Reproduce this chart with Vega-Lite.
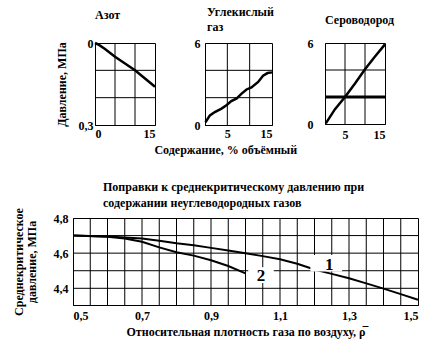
{
  "$schema": "https://vega.github.io/schema/vega-lite/v6.json",
  "background": "white",
  "config": {
    "font": "Liberation Serif, Times New Roman, DejaVu Serif, serif",
    "view": {"stroke": "black", "strokeWidth": 1},
    "axis": {"labelColor": "black", "gridColor": "black", "gridWidth": 1, "grid": false, "labelFontSize": 12, "labelOverlap": false, "tickSize": 1, "tickOpacity": 0, "domainColor": "black", "titleColor": "black", "titleFontSize": 12}
  },
  "datasets": {
    "azot": [
      {"x": 0, "y": 0}, {"x": 1, "y": 0.007}, {"x": 2.5, "y": 0.022}, {"x": 5, "y": 0.05},
      {"x": 7.5, "y": 0.075}, {"x": 10, "y": 0.1}, {"x": 12.5, "y": 0.13}, {"x": 15, "y": 0.16}
    ],
    "co2": [
      {"x": 0.1, "y": 0.2}, {"x": 1.1, "y": 0.7}, {"x": 2.2, "y": 0.95}, {"x": 3.7, "y": 1.2},
      {"x": 4.8, "y": 1.45}, {"x": 5.9, "y": 1.75}, {"x": 7.1, "y": 1.95}, {"x": 8.2, "y": 2.3},
      {"x": 9.3, "y": 2.6}, {"x": 10.4, "y": 2.75}, {"x": 11.9, "y": 3.15}, {"x": 13, "y": 3.6},
      {"x": 14, "y": 3.8}, {"x": 15, "y": 3.85}
    ],
    "h2s": [
      {"x": 0.2, "y": 0.05}, {"x": 2.5, "y": 1.1}, {"x": 5, "y": 2}, {"x": 7.5, "y": 3},
      {"x": 10, "y": 4.05}, {"x": 12.5, "y": 5}, {"x": 15, "y": 5.9}
    ],
    "h2s_ref": [{"y": 2}],
    "spacer": [{"v": 0}],
    "gridlines": [
      {"panel": "azot", "dir": "v", "v": 5}, {"panel": "azot", "dir": "v", "v": 10},
      {"panel": "azot", "dir": "h", "v": 0.1}, {"panel": "azot", "dir": "h", "v": 0.2},
      {"panel": "co2", "dir": "v", "v": 5}, {"panel": "co2", "dir": "v", "v": 10},
      {"panel": "co2", "dir": "h", "v": 2}, {"panel": "co2", "dir": "h", "v": 4},
      {"panel": "h2s", "dir": "v", "v": 5}, {"panel": "h2s", "dir": "v", "v": 10},
      {"panel": "h2s", "dir": "h", "v": 2}, {"panel": "h2s", "dir": "h", "v": 4},
      {"panel": "main", "dir": "v", "v": 0.55}, {"panel": "main", "dir": "v", "v": 0.6}, {"panel": "main", "dir": "v", "v": 0.65},
      {"panel": "main", "dir": "v", "v": 0.7}, {"panel": "main", "dir": "v", "v": 0.75}, {"panel": "main", "dir": "v", "v": 0.8},
      {"panel": "main", "dir": "v", "v": 0.85}, {"panel": "main", "dir": "v", "v": 0.9}, {"panel": "main", "dir": "v", "v": 0.95},
      {"panel": "main", "dir": "v", "v": 1.0}, {"panel": "main", "dir": "v", "v": 1.05}, {"panel": "main", "dir": "v", "v": 1.1},
      {"panel": "main", "dir": "v", "v": 1.15}, {"panel": "main", "dir": "v", "v": 1.2}, {"panel": "main", "dir": "v", "v": 1.25},
      {"panel": "main", "dir": "v", "v": 1.3}, {"panel": "main", "dir": "v", "v": 1.35}, {"panel": "main", "dir": "v", "v": 1.4},
      {"panel": "main", "dir": "v", "v": 1.45},
      {"panel": "main", "dir": "h", "v": 4.4}, {"panel": "main", "dir": "h", "v": 4.5},
      {"panel": "main", "dir": "h", "v": 4.6}, {"panel": "main", "dir": "h", "v": 4.7}
    ],
    "curves": [
      {"curve": "1", "x": 0.5, "y": 4.7}, {"curve": "1", "x": 0.6, "y": 4.695}, {"curve": "1", "x": 0.7, "y": 4.683},
      {"curve": "1", "x": 0.75, "y": 4.67}, {"curve": "1", "x": 0.8, "y": 4.656}, {"curve": "1", "x": 0.85, "y": 4.645},
      {"curve": "1", "x": 0.9, "y": 4.63}, {"curve": "1", "x": 0.95, "y": 4.615}, {"curve": "1", "x": 1.0, "y": 4.6},
      {"curve": "1", "x": 1.05, "y": 4.583}, {"curve": "1", "x": 1.1, "y": 4.565}, {"curve": "1", "x": 1.15, "y": 4.54},
      {"curve": "1", "x": 1.2, "y": 4.507}, {"curve": "1", "x": 1.25, "y": 4.482}, {"curve": "1", "x": 1.3, "y": 4.457},
      {"curve": "1", "x": 1.35, "y": 4.428}, {"curve": "1", "x": 1.4, "y": 4.398}, {"curve": "1", "x": 1.45, "y": 4.367},
      {"curve": "1", "x": 1.5, "y": 4.335},
      {"curve": "2", "x": 0.5, "y": 4.7}, {"curve": "2", "x": 0.6, "y": 4.693}, {"curve": "2", "x": 0.65, "y": 4.683},
      {"curve": "2", "x": 0.7, "y": 4.665}, {"curve": "2", "x": 0.75, "y": 4.633}, {"curve": "2", "x": 0.8, "y": 4.605},
      {"curve": "2", "x": 0.85, "y": 4.586}, {"curve": "2", "x": 0.9, "y": 4.56}, {"curve": "2", "x": 0.95, "y": 4.527},
      {"curve": "2", "x": 1.0, "y": 4.485}
    ],
    "annot": [
      {"label": "1", "x": 1.243, "y": 4.535, "x1": 1.188, "x2": 1.28, "y1": 4.496, "y2": 4.59},
      {"label": "2", "x": 1.045, "y": 4.47, "x1": 1.008, "x2": 1.082, "y1": 4.43, "y2": 4.52}
    ]
  },
  "spacing": 24,
  "vconcat": [
    {
      "title": {"text": "Содержание, % объёмный", "orient": "bottom", "anchor": "middle", "offset": 4, "dx": 25, "fontSize": 12, "fontWeight": "bold", "color": "black"},
      "spacing": 32,
      "hconcat": [
        {
          "width": 15, "height": 1,
          "view": {"stroke": null},
          "data": {"name": "spacer"},
          "mark": {"type": "point", "opacity": 0},
          "encoding": {}
        },
        {
          "width": 60, "height": 82,
          "title": {"text": "Азот", "anchor": "start", "frame": "group", "offset": 15, "fontSize": 12, "fontWeight": "bold", "color": "black"},
          "layer": [
            {
              "data": {"name": "gridlines"},
              "transform": [{"filter": "datum.panel == 'azot' && datum.dir == 'v'"}],
              "mark": {"type": "rule", "color": "black", "strokeWidth": 1},
              "encoding": {"x": {"field": "v", "type": "quantitative", "scale": {"domain": [0, 15], "nice": false}}}
            },
            {
              "data": {"name": "gridlines"},
              "transform": [{"filter": "datum.panel == 'azot' && datum.dir == 'h'"}],
              "mark": {"type": "rule", "color": "black", "strokeWidth": 1},
              "encoding": {"y": {"field": "v", "type": "quantitative", "scale": {"domain": [0, 0.3], "reverse": true, "nice": false, "zero": false}}}
            },
            {
              "data": {"name": "azot"},
              "mark": {"type": "line", "strokeWidth": 2.5, "color": "black"},
              "encoding": {
                "x": {"field": "x", "type": "quantitative", "scale": {"domain": [0, 15], "nice": false},
                      "axis": {"values": [0, 5, 10, 15], "title": "", "grid": false, "labelFont": "Times New Roman, Liberation Serif, DejaVu Serif, serif", "labelFontWeight": "bold", "labelColor": "black", "labelFontSize": 12, "labelPadding": 2}},
                "y": {"field": "y", "type": "quantitative", "scale": {"domain": [0, 0.3], "reverse": true, "nice": false, "zero": false},
                      "axis": {"values": [0, 0.1, 0.2, 0.3], "labelPadding": 1, "grid": false, "labelFont": "Times New Roman, Liberation Serif, DejaVu Serif, serif", "labelFontWeight": "bold", "labelColor": "black", "labelFontSize": 12,
                               "labelExpr": "datum.value == 0 ? '0' : replace(format(datum.value, '.1f'), '.', ',')",
                               "title": "Давление, МПа", "titlePadding": 10}}
              }
            }
          ]
        },
        {
          "spacing": 28,
          "hconcat": [
            {
              "width": 67, "height": 82,
              "title": {"text": ["Углекислый", "газ"], "anchor": "start", "frame": "group", "dx": 2, "offset": 3, "lineHeight": 15, "fontSize": 12, "fontWeight": "bold", "color": "black"},
              "layer": [
                {
                  "data": {"name": "gridlines"},
                  "transform": [{"filter": "datum.panel == 'co2' && datum.dir == 'v'"}],
                  "mark": {"type": "rule", "color": "black", "strokeWidth": 1},
                  "encoding": {"x": {"field": "v", "type": "quantitative", "scale": {"domain": [0, 15], "nice": false}}}
                },
                {
                  "data": {"name": "gridlines"},
                  "transform": [{"filter": "datum.panel == 'co2' && datum.dir == 'h'"}],
                  "mark": {"type": "rule", "color": "black", "strokeWidth": 1},
                  "encoding": {"y": {"field": "v", "type": "quantitative", "scale": {"domain": [0, 6], "nice": false}}}
                },
                {
                  "data": {"name": "co2"},
                  "mark": {"type": "line", "strokeWidth": 2.5, "color": "black"},
                  "encoding": {
                    "x": {"field": "x", "type": "quantitative", "scale": {"domain": [0, 15], "nice": false},
                          "axis": {"values": [5, 10, 15], "title": "", "grid": false, "labelFont": "Times New Roman, Liberation Serif, DejaVu Serif, serif", "labelFontWeight": "bold", "labelColor": "black", "labelFontSize": 12, "labelPadding": 2}},
                    "y": {"field": "y", "type": "quantitative", "scale": {"domain": [0, 6], "nice": false},
                          "axis": {"values": [0, 2, 4, 6], "labelPadding": 4, "title": "", "grid": false, "labelFont": "Times New Roman, Liberation Serif, DejaVu Serif, serif", "labelFontWeight": "bold", "labelColor": "black", "labelFontSize": 12}}
                  }
                }
              ]
            },
            {
              "width": 60, "height": 81,
              "title": {"text": "Сероводород", "anchor": "start", "frame": "group", "offset": 10, "fontSize": 12, "fontWeight": "bold", "color": "black"},
              "layer": [
                {
                  "data": {"name": "gridlines"},
                  "transform": [{"filter": "datum.panel == 'h2s' && datum.dir == 'v'"}],
                  "mark": {"type": "rule", "color": "black", "strokeWidth": 1},
                  "encoding": {"x": {"field": "v", "type": "quantitative", "scale": {"domain": [0, 15], "nice": false}}}
                },
                {
                  "data": {"name": "gridlines"},
                  "transform": [{"filter": "datum.panel == 'h2s' && datum.dir == 'h'"}],
                  "mark": {"type": "rule", "color": "black", "strokeWidth": 1},
                  "encoding": {"y": {"field": "v", "type": "quantitative", "scale": {"domain": [0, 6], "nice": false}}}
                },
                {
                  "data": {"name": "h2s_ref"},
                  "mark": {"type": "rule", "strokeWidth": 3, "color": "black"},
                  "encoding": {"y": {"field": "y", "type": "quantitative", "scale": {"domain": [0, 6], "nice": false}}}
                },
                {
                  "data": {"name": "h2s"},
                  "mark": {"type": "line", "strokeWidth": 2.5, "color": "black"},
                  "encoding": {
                    "x": {"field": "x", "type": "quantitative", "scale": {"domain": [0, 15], "nice": false},
                          "axis": {"values": [5, 10, 15], "title": "", "labelPadding": 4, "grid": false, "labelFont": "Times New Roman, Liberation Serif, DejaVu Serif, serif", "labelFontWeight": "bold", "labelColor": "black", "labelFontSize": 12}},
                    "y": {"field": "y", "type": "quantitative", "scale": {"domain": [0, 6], "nice": false},
                          "axis": {"values": [0, 2, 4, 6], "labelPadding": 11, "title": "", "grid": false, "labelFont": "Times New Roman, Liberation Serif, DejaVu Serif, serif", "labelFontWeight": "bold", "labelColor": "black", "labelFontSize": 12}}
                  }
                }
              ]
            }
          ]
        }
      ]
    },
    {
      "spacing": 0,
      "hconcat": [
        {
          "width": 2, "height": 1,
          "view": {"stroke": null},
          "data": {"name": "spacer"},
          "mark": {"type": "point", "opacity": 0},
          "encoding": {}
        },
        {
          "width": 345, "height": 87,
          "title": {"text": ["Поправки к среднекритическому давлению при", "содержании неуглеводородных газов"],
                    "anchor": "start", "frame": "group", "dx": 30, "offset": -2, "lineHeight": 16, "fontSize": 12, "fontWeight": "bold", "color": "black"},
          "layer": [
            {
              "data": {"name": "gridlines"},
              "transform": [{"filter": "datum.panel == 'main' && datum.dir == 'v'"}],
              "mark": {"type": "rule", "color": "black", "strokeWidth": 1},
              "encoding": {"x": {"field": "v", "type": "quantitative", "scale": {"domain": [0.5, 1.5], "nice": false, "zero": false}}}
            },
            {
              "data": {"name": "gridlines"},
              "transform": [{"filter": "datum.panel == 'main' && datum.dir == 'h'"}],
              "mark": {"type": "rule", "color": "black", "strokeWidth": 1},
              "encoding": {"y": {"field": "v", "type": "quantitative", "scale": {"domain": [4.305, 4.8], "nice": false, "zero": false}}}
            },
            {
              "data": {"name": "curves"},
              "mark": {"type": "line", "strokeWidth": 2, "color": "black"},
              "encoding": {
                "x": {"field": "x", "type": "quantitative", "scale": {"domain": [0.5, 1.5], "nice": false, "zero": false},
                      "axis": {"values": [0.5, 0.6, 0.7, 0.8, 0.9, 1.0, 1.1, 1.2, 1.3, 1.4, 1.5],
                               "labelExpr": "abs(datum.value - 0.6) < 0.001 ? '0.6' : replace(format(datum.value, '.1f'), '.', ',')",
                               "labelPadding": 4, "grid": false, "labelFont": "Times New Roman, Liberation Serif, DejaVu Serif, serif", "labelFontWeight": "bold", "labelColor": "black", "labelFontSize": 12,
                               "title": "Относительная плотность газа по воздуху,  ρ̅", "titlePadding": 5}},
                "y": {"field": "y", "type": "quantitative", "scale": {"domain": [4.305, 4.8], "nice": false, "zero": false},
                      "axis": {"values": [4.4, 4.6, 4.8],
                               "labelExpr": "replace(format(datum.value, '.1f'), '.', ',')",
                               "labelPadding": 4, "grid": false, "labelFont": "Times New Roman, Liberation Serif, DejaVu Serif, serif", "labelFontWeight": "bold", "labelColor": "black", "labelFontSize": 12,
                               "title": ["Среднекритическое", "давление, МПа"], "titlePadding": 15, "titleLineHeight": 13}},
                "detail": {"field": "curve"}
              }
            },
            {
              "data": {"name": "annot"},
              "mark": {"type": "rect", "color": "white"},
              "encoding": {
                "x": {"field": "x1", "type": "quantitative", "scale": {"domain": [0.5, 1.5], "nice": false, "zero": false}},
                "x2": {"field": "x2"},
                "y": {"field": "y1", "type": "quantitative", "scale": {"domain": [4.305, 4.8], "nice": false, "zero": false}},
                "y2": {"field": "y2"}
              }
            },
            {
              "data": {"name": "annot"},
              "mark": {"type": "text", "fontSize": 17, "fontWeight": "bold", "color": "black"},
              "encoding": {
                "x": {"field": "x", "type": "quantitative", "scale": {"domain": [0.5, 1.5], "nice": false, "zero": false}},
                "y": {"field": "y", "type": "quantitative", "scale": {"domain": [4.305, 4.8], "nice": false, "zero": false}},
                "text": {"field": "label"}
              }
            }
          ]
        }
      ]
    }
  ]
}
